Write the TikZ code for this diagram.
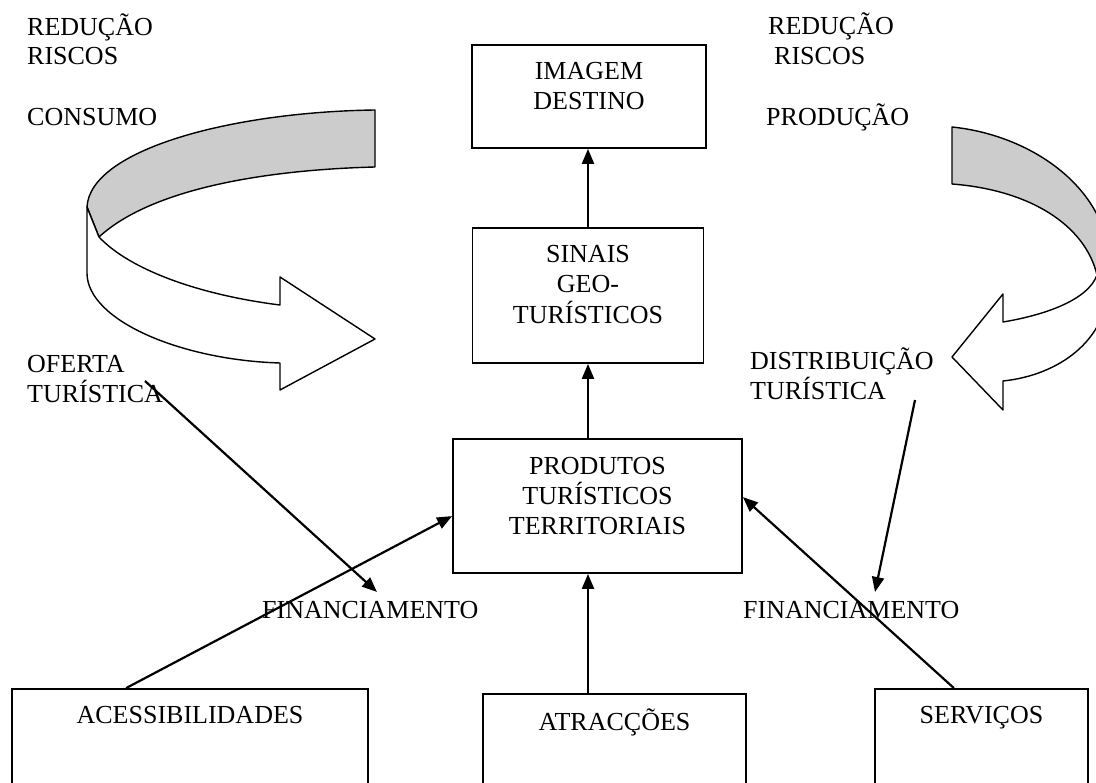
\documentclass[tikz,border=0pt]{standalone}
\usepackage{fontspec}
\setmainfont{Liberation Serif}
\usetikzlibrary{arrows.meta}
\begin{document}
\begin{tikzpicture}[x=1pt,y=-1pt,
  box/.style={draw,line width=1.8pt,inner sep=0pt},
  txt/.style={inner sep=0pt,anchor=base west,font=\fontsize{26}{30}\selectfont},
  ctxt/.style={inner sep=0pt,anchor=base,font=\fontsize{26}{30}\selectfont},
  conn/.style={line width=2.2pt,-{Triangle[length=15pt,width=12pt]}},
  band/.style={draw,line width=1.4pt,line join=round}]
\useasboundingbox (0,0) rectangle (1096,783);
\clip (0,0) rectangle (1096,783);
\fill[white] (0,0) rectangle (1096,783);

% curved arrows
\draw[band,fill=gray!40] (375,110) .. controls (230,112) and (90,150) .. (87,207)
  -- (99,237) .. controls (150,190) and (260,170) .. (375,167) -- cycle;
\draw[band,fill=white] (87,207) -- (87,273) .. controls (87,320) and (180,360) .. (280,363)
  -- (280,390) -- (375,339) -- (280,277) -- (280,305)
  .. controls (200,295) and (130,270) .. (99,237) -- cycle;
\draw[band,fill=gray!40] (952,127) .. controls (1030,135) and (1100,185) .. (1108,250)
  -- (1097,275) .. controls (1085,225) and (1030,190) .. (952,184) -- cycle;
\draw[band,fill=white] (1108,250) -- (1108,290) .. controls (1105,340) and (1060,375) .. (1003,381)
  -- (1003,410) -- (952,357) -- (1003,294) -- (1003,322)
  .. controls (1045,315) and (1088,300) .. (1097,275) -- cycle;

% boxes
\node[box,minimum width=234pt,minimum height=103pt] (imagem) at (589,96.5) {};
\node[box,minimum width=231pt,minimum height=135pt] (sinais) at (588,295.5) {};
\node[box,minimum width=289pt,minimum height=134pt] (produtos) at (597.5,506) {};
\node[box,minimum width=356pt,minimum height=140pt] (acess) at (190,759) {};
\node[box,minimum width=263pt,minimum height=140pt] (atrac) at (614.5,764) {};
\node[box,minimum width=213pt,minimum height=140pt] (serv) at (981.5,759) {};

% box texts
\node[ctxt] at (589,80) {IMAGEM};
\node[ctxt] at (589,110) {DESTINO};
\node[ctxt] at (588,263) {SINAIS};
\node[ctxt] at (588,293) {GEO-};
\node[ctxt] at (588,324) {TURÍSTICOS};
\node[ctxt] at (597.5,475) {PRODUTOS};
\node[ctxt] at (597.5,505) {TURÍSTICOS};
\node[ctxt] at (597.5,535) {TERRITORIAIS};
\node[ctxt] at (190,723) {ACESSIBILIDADES};
\node[ctxt] at (614.5,730) {ATRACÇÕES};
\node[ctxt] at (981.5,723) {SERVIÇOS};

% free texts
\node[txt] at (27,36) {REDUÇÃO};
\node[txt] at (27,65) {RISCOS};
\node[txt] at (27,126) {CONSUMO};
\node[txt] at (768,35) {REDUÇÃO};
\node[txt] at (774,65) {RISCOS};
\node[txt] at (766,126) {PRODUÇÃO};
\node[txt] at (27,373) {OFERTA};
\node[txt] (oferta) at (27,403) {TURÍSTICA};
\node[txt] at (750,370) {DISTRIBUIÇÃO};
\node[txt] (distrib) at (750,400) {TURÍSTICA};
\node[txt] (finL) at (262,618) {FINANCIAMENTO};
\node[txt] (finR) at (743,618) {FINANCIAMENTO};

% connectors
\draw[conn] (sinais.north) -- (imagem.south -| sinais.north);
\draw[conn] (produtos.north -| sinais.south) -- (sinais.south);
\draw[conn] (atrac.north -| sinais.south) -- (produtos.south -| sinais.south);
\draw[conn] ([xshift=115pt]acess.north west) -- ([yshift=-78pt]produtos.north west);
\draw[conn] ([xshift=-135pt]serv.north east) -- ([yshift=-59pt]produtos.north east);

\coordinate (ofS) at (145,381);
\coordinate (ofE) at (377,592);
\coordinate (diS) at (915,400);
\coordinate (diE) at (875,592);
\draw[conn] (ofS) -- (ofE);
\draw[conn] (diS) -- (diE);
\end{tikzpicture}
\end{document}
